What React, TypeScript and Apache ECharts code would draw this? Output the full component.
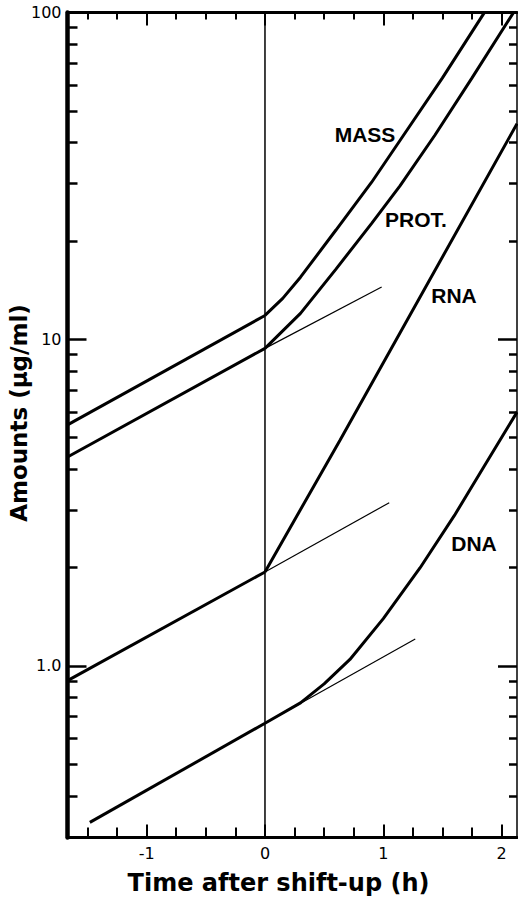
import React, { useEffect, useRef } from "react";
import * as echarts from "echarts";

// Axis ranges
const xMin = -1.669;
const xMax = 2.13;
const yMin = 0.2985;
const yMax = 100;

// Tick positions
const xMajorTicks = [-1, 0, 1, 2];
const xMinorTicks = [-1.5, -1.25, -0.75, -0.5, -0.25, 0.25, 0.5, 0.75, 1.25, 1.5, 1.75];
const yMajorTicks = [1, 10];
const yMinorTicks = [0.4, 0.5, 0.6, 0.7, 0.8, 0.9, 2, 3, 4, 5, 6, 7, 8, 9, 20, 30, 40, 50, 60, 70, 80, 90];

// Curves (time in h, amount in µg/ml); first two points = exponential phase before shift
const massX = [-1.669, 0, 0.15, 0.3, 0.6, 0.9, 1.141, 1.5, 1.854];
const massY = [5.47, 11.83, 13.34, 15.49, 21.6, 30.2, 40.6, 63.1, 100];

const protX = [-1.669, 0, 0.3, 0.6, 0.9, 1.141, 1.437, 1.75, 2.1];
const protY = [4.36, 9.38, 12.0, 16.4, 22.6, 29.5, 42.2, 63.1, 100];

const rnaX = [-1.669, 0, 0.634, 2.13];
const rnaY = [0.902, 1.94, 4.91, 45.7];

const dnaX = [-1.48, 0, 0.3, 0.5, 0.718, 1.0, 1.31, 1.6, 1.85, 2.13];
const dnaY = [0.332, 0.668, 0.771, 0.881, 1.047, 1.396, 1.995, 2.884, 4.074, 5.984];

// Thin extrapolation lines of the pre-shift exponential growth
const protTangentX = [0, 0.986];
const protTangentY = [9.38, 14.45];
const rnaTangentX = [0, 1.05];
const rnaTangentY = [1.94, 3.16];
const dnaTangentX = [0, 1.27];
const dnaTangentY = [0.668, 1.21];

const shiftLineX = [0, 0];
const shiftLineY = [yMin, yMax];

const curveLabels = ["MASS", "PROT.", "RNA", "DNA"];

const zip = (xs: number[], ys: number[]) => xs.map((x, i) => [x, ys[i]]);

export default function App() {
  const ref = useRef<HTMLDivElement>(null);

  useEffect(() => {
    if (!ref.current) return;
    const chart = echarts.init(ref.current, undefined, { renderer: "svg" });

    const black = "#000";
    const thick = { color: black, width: 3 };
    const thin = { color: black, width: 1.2 };

    const lineSeries = (data: number[][], lineStyle: any) => ({
      type: "line",
      data,
      symbol: "none",
      silent: true,
      smooth: false,
      lineStyle,
      z: 3,
    });

    const pre = (xs: number[], ys: number[]) => zip(xs.slice(0, 2), ys.slice(0, 2));
    const post = (xs: number[], ys: number[]) => zip(xs.slice(1), ys.slice(1));

    const fmtY = (v: number) => {
      if (Math.abs(v - 1) < 1e-6) return "1.0";
      if (Math.abs(v - 10) < 1e-5) return "10";
      if (Math.abs(v - 100) < 1e-4) return "100";
      return "";
    };

    const labelFont = 'bold 21px "Liberation Sans"';

    const tickAxisX = (position: string, values: number[], length: number, showLine: boolean, lineWidth: number) => ({
      type: "value",
      position,
      min: xMin,
      max: xMax,
      axisLine: { show: showLine, onZero: false, lineStyle: { color: black, width: 3 } },
      axisTick: { show: true, inside: true, length, customValues: values, lineStyle: { color: black, width: lineWidth } },
      splitLine: { show: false },
      axisLabel: { show: false },
    });

    const tickAxisY = (position: string, values: number[], length: number, lineWidth: number) => ({
      type: "log",
      logBase: 10,
      position,
      min: yMin,
      max: yMax,
      axisLine: { show: false, onZero: false },
      axisTick: { show: true, inside: true, length, customValues: values, lineStyle: { color: black, width: lineWidth } },
      splitLine: { show: false },
      axisLabel: { show: false },
    });

    chart.setOption({
      animation: false,
      backgroundColor: "#fff",
      grid: { left: 67.5, right: 1, top: 12.6, bottom: 63.5, containLabel: false },
      xAxis: [
        {
          type: "value",
          position: "bottom",
          min: xMin,
          max: xMax,
          axisLine: { show: true, onZero: false, lineStyle: { color: black, width: 3 } },
          axisTick: {
            show: true,
            inside: true,
            length: 10,
            customValues: xMinorTicks,
            lineStyle: { color: black, width: 2 },
          },
          splitLine: { show: false },
          axisLabel: {
            customValues: xMajorTicks,
            formatter: (v: number) => String(Math.round(v)),
            color: black,
            fontSize: 16,
            fontFamily: "DejaVu Sans",
            margin: 8,
          },
        },
        tickAxisX("top", xMinorTicks, 7, true, 2),
        tickAxisX("bottom", xMajorTicks, 13, false, 2),
        tickAxisX("top", xMajorTicks, 13, false, 2),
      ],
      yAxis: [
        {
          type: "log",
          logBase: 10,
          position: "left",
          min: yMin,
          max: yMax,
          axisLine: { show: true, onZero: false, lineStyle: { color: black, width: 4.5 } },
          axisTick: {
            show: true,
            inside: true,
            length: 10,
            customValues: yMinorTicks,
            lineStyle: { color: black, width: 2.5 },
          },
          splitLine: { show: false },
          axisLabel: {
            formatter: fmtY,
            color: black,
            fontSize: 16,
            fontFamily: "DejaVu Sans",
            margin: 6,
            showMinLabel: true,
            showMaxLabel: true,
          },
        },
        {
          type: "log",
          logBase: 10,
          position: "right",
          min: yMin,
          max: yMax,
          axisLine: { show: true, onZero: false, lineStyle: { color: black, width: 1.5 } },
          axisTick: {
            show: true,
            inside: true,
            length: 8,
            customValues: yMinorTicks,
            lineStyle: { color: black, width: 2.5 },
          },
          splitLine: { show: false },
          axisLabel: { show: false },
        },
        tickAxisY("left", yMajorTicks, 19, 2.5),
        tickAxisY("right", yMajorTicks, 19, 2.5),
      ],
      series: [
        lineSeries(zip(shiftLineX, shiftLineY), { color: black, width: 1.5 }),
        lineSeries(pre(massX, massY), thick),
        lineSeries(post(massX, massY), thick),
        lineSeries(pre(protX, protY), thick),
        lineSeries(post(protX, protY), thick),
        lineSeries(pre(rnaX, rnaY), thick),
        lineSeries(post(rnaX, rnaY), thick),
        lineSeries(pre(dnaX, dnaY), thick),
        lineSeries(post(dnaX, dnaY), thick),
        lineSeries(zip(protTangentX, protTangentY), thin),
        lineSeries(zip(rnaTangentX, rnaTangentY), thin),
        lineSeries(zip(dnaTangentX, dnaTangentY), thin),
      ],
      graphic: [
        {
          type: "text",
          x: 19,
          y: 413,
          rotation: Math.PI / 2,
          style: {
            text: "Amounts (\u03bcg/ml)",
            font: 'bold 23px "DejaVu Sans"',
            fill: black,
            textAlign: "center",
            textVerticalAlign: "middle",
            align: "center",
            verticalAlign: "middle",
          },
        },
        {
          type: "text",
          x: 278.5,
          y: 883,
          style: {
            text: "Time after shift-up (h)",
            font: 'bold 24px "DejaVu Sans"',
            fill: black,
            textAlign: "center",
            textVerticalAlign: "middle",
            align: "center",
            verticalAlign: "middle",
          },
        },
        ...[
          [365, 134],
          [416, 219],
          [454, 295],
          [474, 543],
        ].map((pos, i) => ({
          type: "text",
          x: pos[0],
          y: pos[1],
          style: {
            text: curveLabels[i],
            font: labelFont,
            fill: black,
            textAlign: "center",
            textVerticalAlign: "middle",
            align: "center",
            verticalAlign: "middle",
          },
        })),
      ],
    });

    return () => chart.dispose();
  }, []);

  return (
    <div
      ref={ref}
      style={{ position: "fixed", left: 0, top: 0, width: 518, height: 901, background: "#fff" }}
    />
  );
}
